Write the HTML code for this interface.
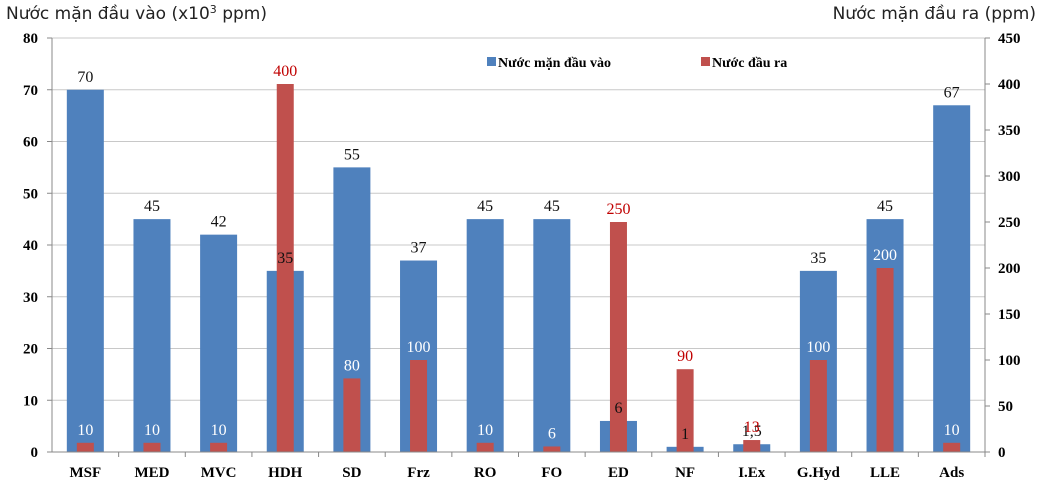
<!DOCTYPE html>
<html><head><meta charset="utf-8"><style>
body{margin:0;background:#fff}
svg text{font-family:"Liberation Serif",serif}
</style></head><body>
<svg id="chart" width="1042" height="493" viewBox="0 0 1042 493" xmlns="http://www.w3.org/2000/svg">
<text x="6" y="19" font-size="17" style="font-family:'DejaVu Sans','Liberation Sans',sans-serif" fill="#222">Nước mặn đầu vào (x10<tspan font-size="11" dy="-6">3</tspan><tspan dy="6"> ppm)</tspan></text>
<text x="1036" y="19" font-size="17" text-anchor="end" style="font-family:'DejaVu Sans','Liberation Sans',sans-serif" fill="#222">Nước mặn đầu ra (ppm)</text>
<g id="grid"></g><g id="bars"></g><g id="axes"></g>
<g>
<rect x="487" y="57" width="9" height="9" fill="#4f81bd"/>
<text x="498" y="67" font-size="14" font-weight="bold">Nước mặn đầu vào</text>
<rect x="701" y="57" width="9" height="9" fill="#c0504d"/>
<text x="712" y="67" font-size="14" font-weight="bold">Nước đầu ra</text>
</g>
</svg>
<script>
const categories=["MSF","MED","MVC","HDH","SD","Frz","RO","FO","ED","NF","I.Ex","G.Hyd","LLE","Ads"];
const inletValues=[70,45,42,35,55,37,45,45,6,1,1.5,35,45,67];
const inletLabels=["70","45","42","35","55","37","45","45","6","1","1,5","35","45","67"];
const outletValues=[10,10,10,400,80,100,10,6,250,90,13,100,200,10];
const outletLabels=["10","10","10","400","80","100","10","6","250","90","13","100","200","10"];
const leftTicks=[0,10,20,30,40,50,60,70,80];
const rightTicks=[0,50,100,150,200,250,300,350,400,450];
const NS="http://www.w3.org/2000/svg";
const X0=52,X1=985,Y0=452,Y1=38;
const yL=v=>Y0-(v/80)*(Y0-Y1);
const yR=v=>Y0-(v/450)*(Y0-Y1);
const step=(X1-X0)/categories.length;
const xc=i=>X0+step*(i+0.5);
function mk(tag,attrs,parent){const e=document.createElementNS(NS,tag);for(const k in attrs)e.setAttribute(k,attrs[k]);document.getElementById(parent).appendChild(e);return e;}
leftTicks.forEach(t=>{
 if(t>0){const g=mk('line',{x1:X0,x2:X1,y1:yL(t),y2:yL(t),stroke:'#c8c8c8','stroke-width':1},'grid');
 
 }
 const l=mk('text',{x:X0-14,y:yL(t)+5,'font-size':15,'font-weight':'bold','text-anchor':'end'},'axes');l.textContent=t;
 
 
 mk('line',{x1:X0-5,x2:X0,y1:yL(t),y2:yL(t),stroke:'#888'},'axes');
});
rightTicks.forEach(t=>{
 const l=mk('text',{x:X1+13,y:yR(t)+5,'font-size':15,'font-weight':'bold'},'axes');l.textContent=t;
 
 
 mk('line',{x1:X1,x2:X1+5,y1:yR(t),y2:yR(t),stroke:'#888'},'axes');
});
mk('line',{x1:X0,x2:X0,y1:Y1,y2:Y0,stroke:'#888'},'axes');
mk('line',{x1:X1,x2:X1,y1:Y1,y2:Y0,stroke:'#888'},'axes');
mk('line',{x1:X0,x2:X1,y1:Y0,y2:Y0,stroke:'#888'},'axes');
categories.forEach((c,i)=>{
 const cx=xc(i);
 mk('line',{x1:X0+step*(i+1),x2:X0+step*(i+1),y1:Y0,y2:Y0+5,stroke:'#888'},'axes');
 const cl=mk('text',{x:cx,y:Y0+25,'font-size':15,'font-weight':'bold','text-anchor':'middle'},'axes');cl.textContent=c;
 
 
 const b=mk('rect',{x:cx-18.5,y:yL(inletValues[i]),width:37,height:Y0-yL(inletValues[i]),fill:'#4f81bd'},'bars');
 
 
 const r=mk('rect',{x:cx-8.5,y:yR(outletValues[i]),width:17,height:Y0-yR(outletValues[i]),fill:'#c0504d'},'bars');
 
 
});
categories.forEach((c,i)=>{
 const cx=xc(i);
 const bl=mk('text',{x:cx,y:yL(inletValues[i])-8,'font-size':16,'text-anchor':'middle',fill:'#111'},'bars');bl.textContent=inletLabels[i];
 
 
 const inside=yR(outletValues[i])>yL(inletValues[i]);
 const rl=mk('text',{x:cx,y:yR(outletValues[i])-8,'font-size':16,'text-anchor':'middle',fill:inside?'#fff':'#c00000'},'bars');rl.textContent=outletLabels[i];
 
 
});
</script>
</body></html>
